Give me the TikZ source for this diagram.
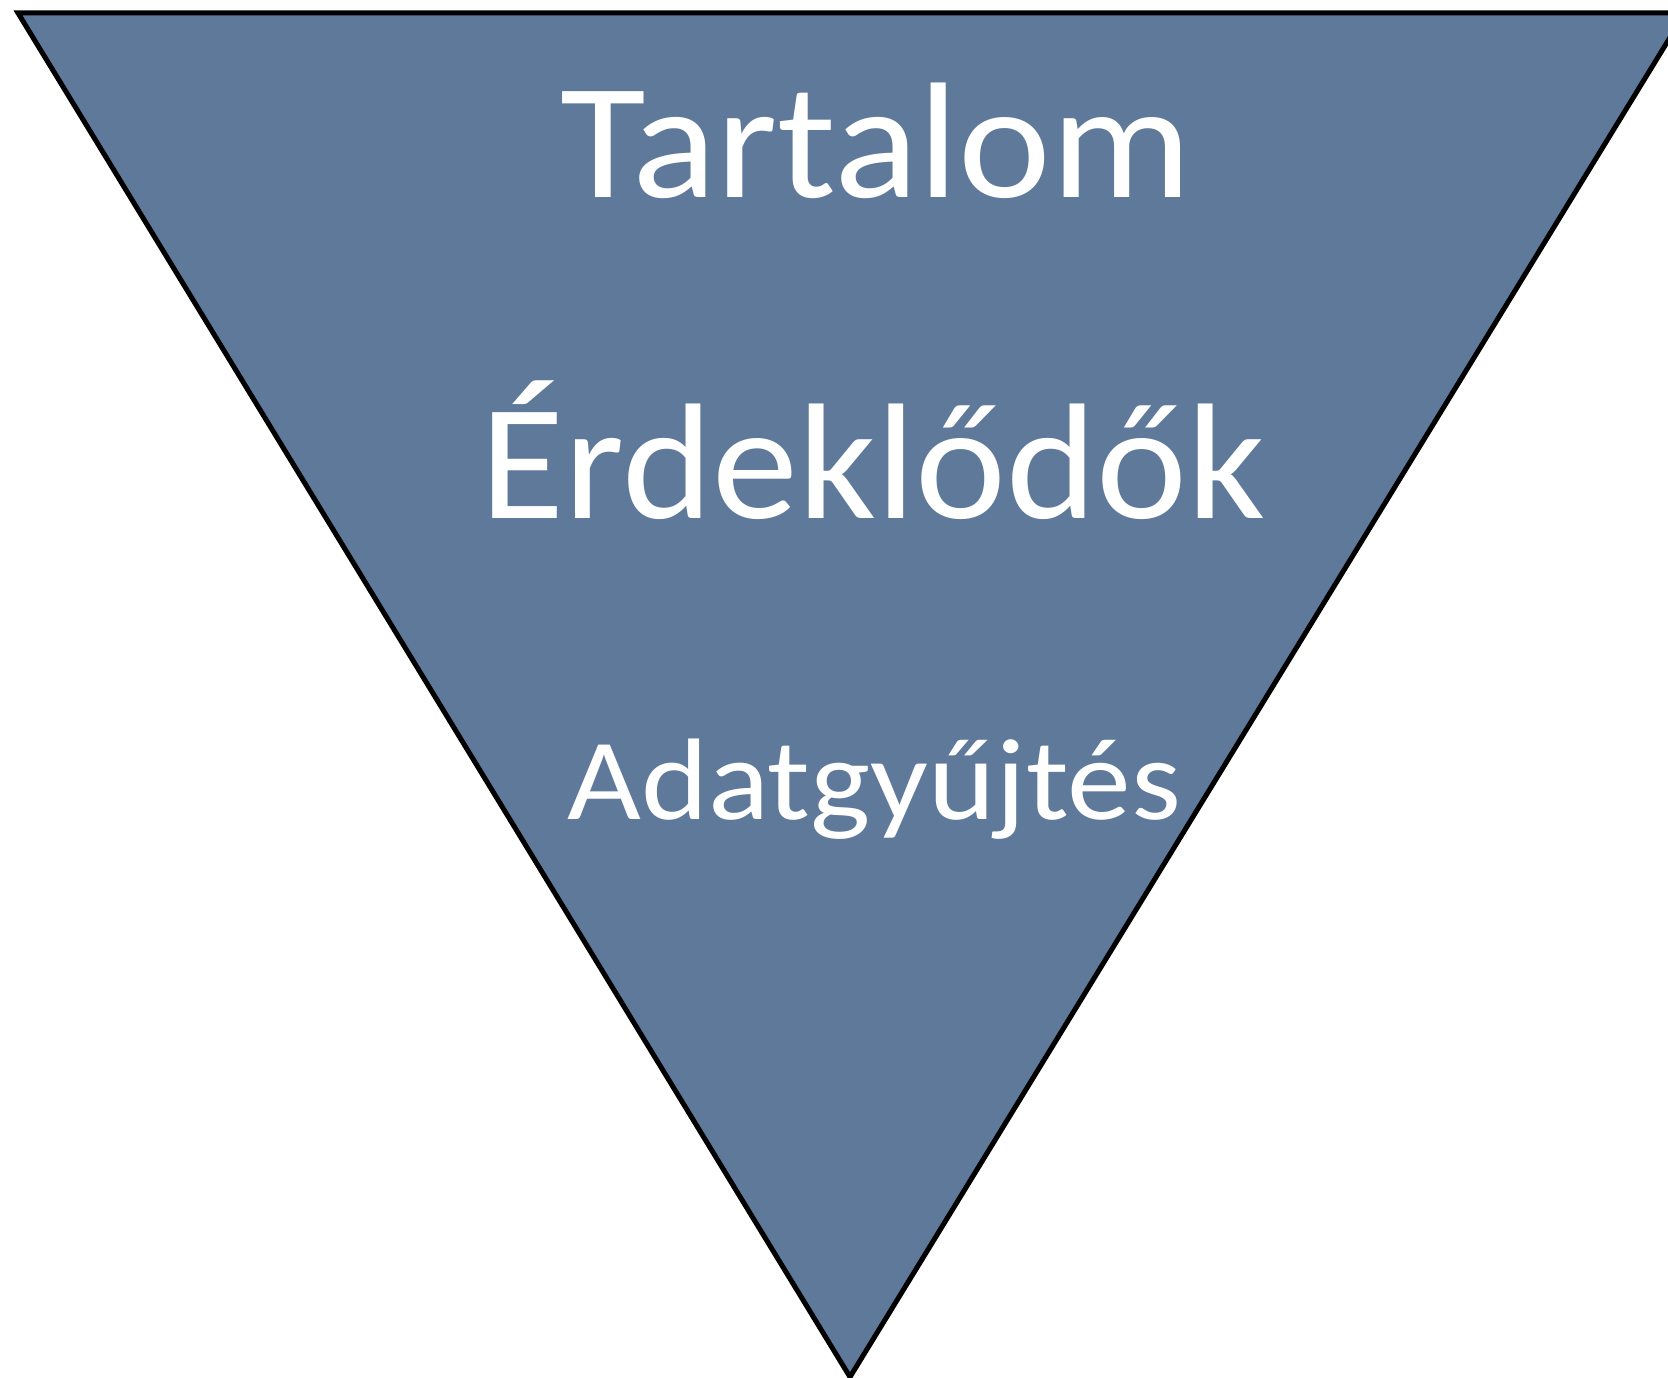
\documentclass[tikz,border=0pt]{standalone}
\usepackage{fontspec}
\setmainfont{Carlito}
\definecolor{slate}{RGB}{94,121,153}
\begin{document}
\begin{tikzpicture}[x=1pt,y=-1pt,
  lbl/.style={text=white,anchor=base,inner sep=0pt}]
\useasboundingbox (0,0) rectangle (1668,1378);
\clip (0,0) rectangle (1668,1378);
\coordinate (tl) at (18,13);
\coordinate (tr) at (1685,13);
\coordinate (bt) at (850,1377);
\filldraw[fill=slate,draw=black,line width=5pt,line join=miter] (tl) -- (tr) -- (bt) -- cycle;
\node[lbl,font=\fontsize{165}{198}\selectfont] (t1) at (876,197) {\scalebox{1.064}[1]{Tartalom}};
\node[lbl,font=\fontsize{165}{198}\selectfont] (t2) at (873,518) {\scalebox{1.043}[1]{Érdeklődők}};
\node[lbl,font=\fontsize{116}{140}\selectfont] (t3) at (874,819) {\scalebox{1.10}[1]{Adatgyűjtés}};
\end{tikzpicture}
\end{document}
